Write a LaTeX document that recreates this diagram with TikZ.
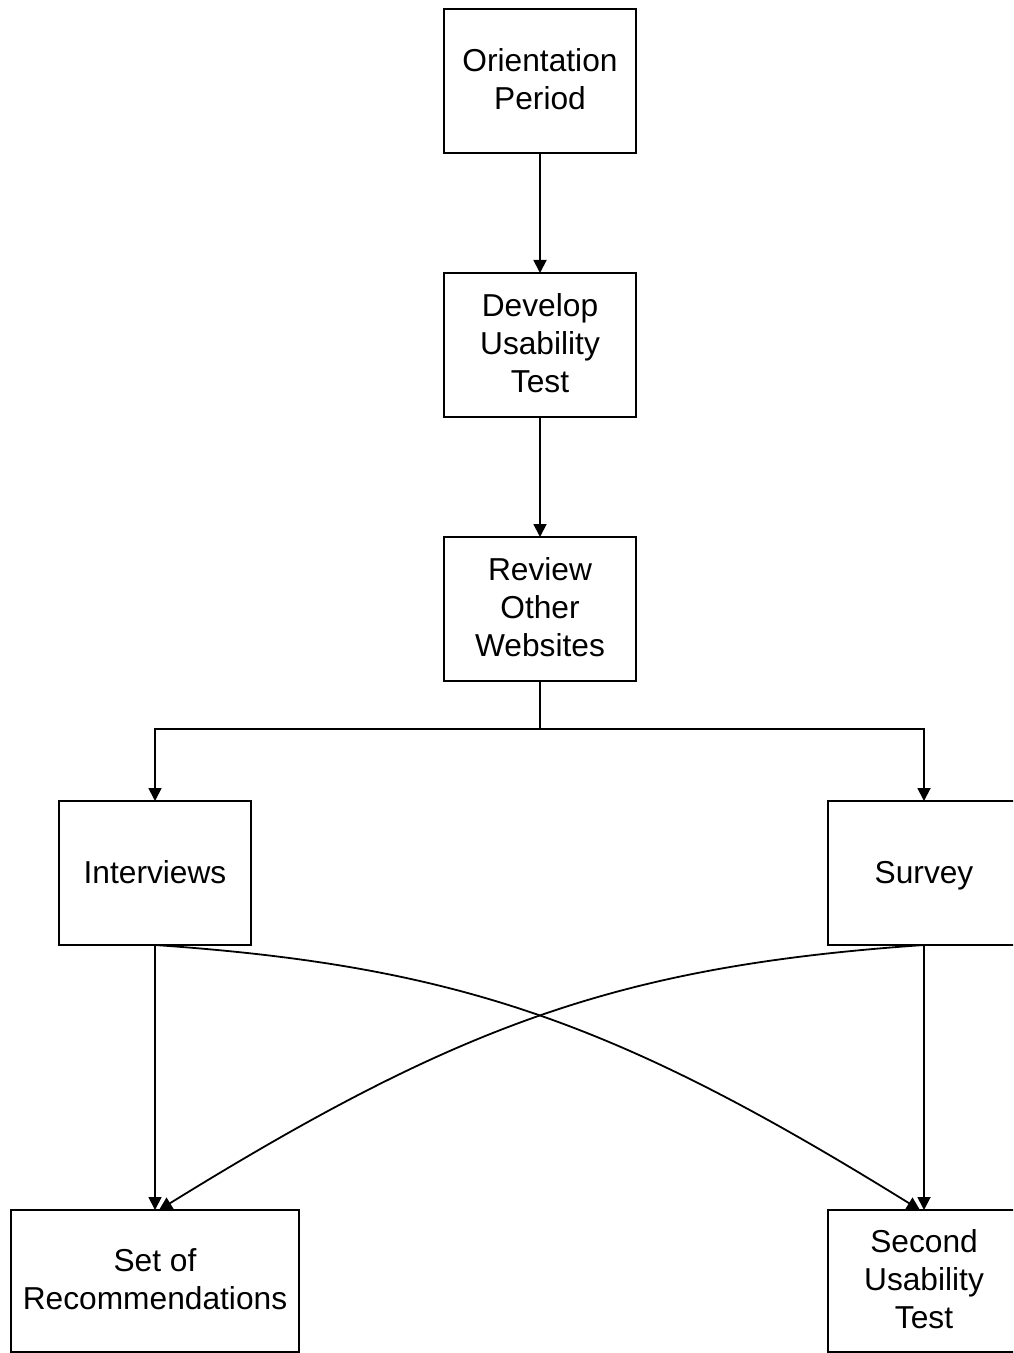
\documentclass[tikz,border=0pt]{standalone}
\usepackage{fontspec}
\setmainfont{Liberation Sans}
\usetikzlibrary{arrows.meta}
\begin{document}
\begin{tikzpicture}[x=0.5pt,y=-0.5pt,
  stepbox/.style={draw, line width=1pt, minimum width=96pt, minimum height=72pt,
    align=center, inner sep=0pt, outer sep=0pt, fill=white, text depth=2pt,
    font=\fontsize{15.85pt}{19pt}\selectfont},
  link/.style={line width=0.9pt},
  flow/.style={link, -{Triangle[length=6.5pt,width=6.5pt]}}]
\useasboundingbox (0,0) rectangle (1013,1353);
\clip (0,0) rectangle (1013,1353);

% process steps
\node[stepbox] (orient)  at (540,81)  {Orientation\\Period};
\node[stepbox] (develop) at (540,345) {Develop\\Usability\\Test};
\node[stepbox] (review)  at (540,609) {Review\\Other\\Websites};
\node[stepbox, text depth=1pt] (interv)  at (155,873) {Interviews};
\node[stepbox, text depth=1pt] (survey)  at (924,873) {Survey};
\node[stepbox, minimum width=144pt, minimum height=71pt] (recs)   at (155,1281) {Set of\\Recommendations};
\node[stepbox, minimum height=71pt] (second) at (924,1281) {Second\\Usability\\Test};

% main sequence
\draw[flow] (orient) -- (develop);
\draw[flow] (develop) -- (review);

% split into the two research branches
\coordinate (split) at (540,729);
\draw[link] (review.south) -- (split);
\draw[flow] (split) -| (interv.north);
\draw[flow] (split) -| (survey.north);

% both branches feed both outcomes
\draw[flow] (interv.south) -- (recs.north);
\draw[flow] (survey.south) -- (second.north);
\draw[flow] (interv.south) .. controls (460,966) and (620,1024) .. ([xshift=-2pt]second.north);
\draw[flow] (survey.south) .. controls (620,966) and (460,1024) .. ([xshift=2pt]recs.north);
\end{tikzpicture}
\end{document}
